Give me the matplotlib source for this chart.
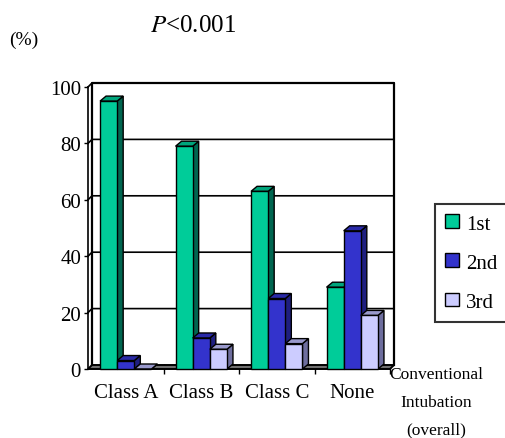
import matplotlib
matplotlib.use("Agg")
import matplotlib.pyplot as plt
from matplotlib.patches import Polygon, Patch
import numpy as np

plt.rcParams["font.family"] = ["Liberation Serif", "DejaVu Serif"]

categories = ["Class A", "Class B", "Class C", "None"]
series_names = ["1st", "2nd", "3rd"]
first = [95, 79, 63, 29]
second = [3, 11, 25, 49]
third = [0, 7, 9, 19]
yticks = [0, 20, 40, 60, 80, 100]

front_colors = ["#00CC99", "#3333CC", "#CCCCFF"]
side_colors = ["#006650", "#1F1F80", "#6E6E9E"]
top_colors = ["#00A57C", "#2A2AA8", "#9999CC"]

fig = plt.figure(figsize=(5.05, 4.39), dpi=100)
W, H = 505, 439
# front axis frame in pixels: x 88..390, y 370(0) .. 88(100)
ax = fig.add_axes([88 / W, (H - 370) / H, 302 / W, 282 / H])
ax.set_xlim(0, 4)
ax.set_ylim(0, 100)
for s in ax.spines.values():
    s.set_visible(False)

px_x = 4 / 302.0   # data units per pixel
px_y = 100 / 282.0
wdx, wdy = 4 * px_x, 4 * px_y      # wall depth
bdx, bdy = 6 * px_x, 5 * px_y      # bar depth

# back wall, left wall and gridlines
for v in yticks[1:]:
    ax.plot([0, wdx, 4 + wdx], [v, v + wdy, v + wdy], color="black", lw=1.2,
            clip_on=False, zorder=1)
ax.plot([wdx, wdx, 4 + wdx, 4 + wdx], [wdy, 100 + wdy, 100 + wdy, wdy],
        color="black", lw=1.6, clip_on=False, zorder=1)
ax.plot([0, 0], [0, 100], color="black", lw=1.2, clip_on=False, zorder=1)

# floor
floor = Polygon([(0, 0), (4, 0), (4 + wdx, wdy), (wdx, wdy)], closed=True,
                facecolor="#707070", edgecolor="black", lw=1.4, clip_on=False, zorder=2)
ax.add_patch(floor)

# bars
values = [first, second, third]
w = 0.227
x0 = np.arange(len(categories)) + 0.5 - 1.5 * w
z = 3
for i in range(len(categories)):
    for k in range(3):
        x = x0[i] + k * w
        h = values[k][i]
        side = Polygon([(x + w, 0), (x + w + bdx, bdy), (x + w + bdx, h + bdy), (x + w, h)],
                       closed=True, facecolor=side_colors[k], edgecolor="black",
                       lw=1, clip_on=False, zorder=z)
        top = Polygon([(x, h), (x + bdx, h + bdy), (x + w + bdx, h + bdy), (x + w, h)],
                      closed=True, facecolor=top_colors[k], edgecolor="black",
                      lw=1, clip_on=False, zorder=z)
        ax.add_patch(side)
        ax.add_patch(top)
        ax.bar(x, h, width=w, align="edge", color=front_colors[k], edgecolor="black",
               lw=1, clip_on=False, zorder=z + 0.5)
        z += 1

# axes ticks
ax.set_yticks(yticks)
ax.set_yticklabels([str(v) for v in yticks], fontsize=15)
ax.tick_params(axis="y", direction="out", length=3, width=1, pad=2)
ax.set_xticks([1, 2, 3, 4])
ax.set_xticklabels([])
ax.tick_params(axis="x", which="major", direction="inout", length=7, width=1)
ax.set_xticks(np.arange(len(categories)) + 0.5, minor=True)
ax.set_xticklabels(categories, minor=True, fontsize=15)
ax.tick_params(axis="x", which="minor", length=0, pad=10)

# texts
fig.text(193 / W, 1 - 32 / H, r"$\mathit{P}$<0.001", fontsize=18, ha="center",
         va="baseline", math_fontfamily="stix")
fig.text(24 / W, 1 - 45 / H, "(%)", fontsize=14, ha="center", va="baseline")
for txt, yy in zip(["Conventional", "Intubation", "(overall)"], [375, 403, 430]):
    fig.text(436 / W, 1 - yy / H, txt, fontsize=12.5, ha="center", va="center")

handles = [Patch(facecolor=c, edgecolor="black", lw=1) for c in front_colors]
leg = fig.legend(handles, series_names, loc="upper left",
                 bbox_to_anchor=(435 / W, 1 - 205 / H), fontsize=15,
                 frameon=True, fancybox=False, edgecolor="black",
                 handlelength=0.65, handleheight=0.65, handletextpad=0.35,
                 labelspacing=0.95, borderpad=0.5, borderaxespad=0)
leg.get_frame().set_linewidth(1.5)

fig.savefig("out.png", dpi=100)
